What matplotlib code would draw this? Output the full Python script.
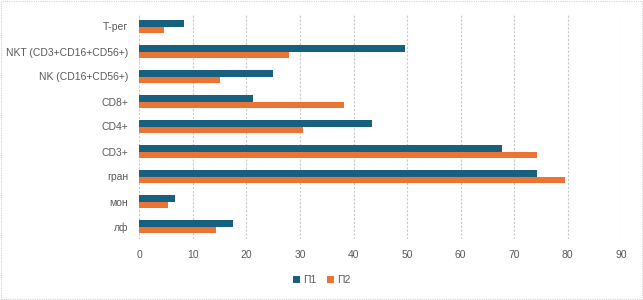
import numpy as np
import matplotlib.pyplot as plt
from matplotlib.patches import Rectangle

# data, bottom to top
categories = ['лф', 'мон', 'гран', 'CD3+', 'CD4+', 'CD8+',
              'NK (CD16+CD56+)', 'NKT (CD3+CD16+CD56+)', 'Т-рег']
p1 = [17.5, 6.7, 74.3, 67.8, 43.5, 21.3, 25.0, 49.7, 8.4]
p2 = [14.3, 5.4, 79.4, 74.2, 30.6, 38.3, 15.1, 28.0, 4.6]
series_names = ['П1', 'П2']

plt.rcParams['font.family'] = ['Liberation Sans', 'DejaVu Sans']

fig = plt.figure(figsize=(6.43, 3.0), dpi=100)
ax = fig.add_axes([139.3 / 643, 1 - 239 / 300, (621.3 - 139.3) / 643, 225 / 300])

y = np.arange(len(categories))
h = 0.26
ax.barh(y + h / 2, p1, height=h, color='#17607f', label=series_names[0], zorder=3)
ax.barh(y - h / 2, p2, height=h, color='#eb7333', label=series_names[1], zorder=3)

ax.set_xlim(0, 90)
ax.set_ylim(-0.5, len(categories) - 0.5)
ax.set_xticks(np.arange(0, 91, 10))
ax.set_yticks(y)
ax.set_yticklabels(categories)
ax.tick_params(length=0, labelsize=7.5, labelcolor='#595959')
ax.tick_params(axis='x', pad=8)
ax.tick_params(axis='y', pad=8)
ax.grid(axis='x', color='#c8c8c8', linestyle=(0, (2, 1.5)), linewidth=0.8, zorder=0)
for s in ax.spines.values():
    s.set_visible(False)

ax.legend(loc='center', bbox_to_anchor=(0.5, (300 - 280) / 300), bbox_transform=fig.transFigure,
          ncol=2, frameon=False, fontsize=7.5, labelcolor='#595959',
          handlelength=0.7, handleheight=0.7, handletextpad=0.3, columnspacing=1.0)

# chart border
fig.patches.append(Rectangle((0.001, 0.002), 0.997, 0.995, transform=fig.transFigure,
                             fill=False, edgecolor='#d0d0d0', linestyle=(0, (1, 1)), linewidth=0.8))

plt.savefig('out.png', dpi=100)
